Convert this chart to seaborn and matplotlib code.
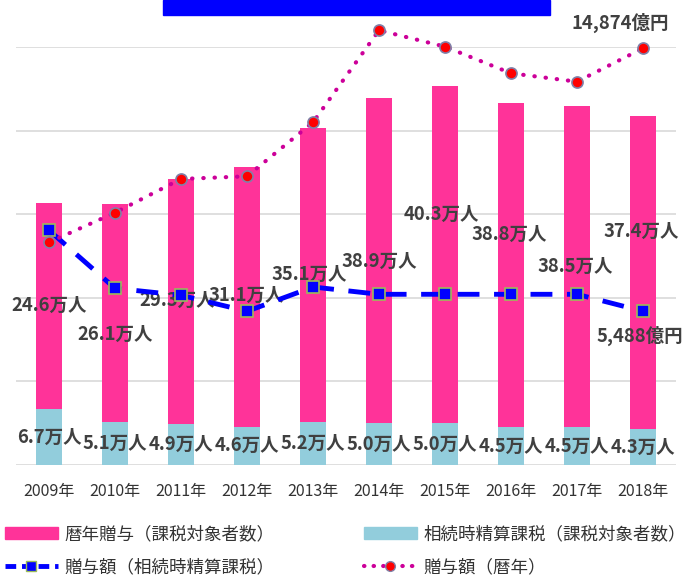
import matplotlib
matplotlib.use("Agg")
import matplotlib.pyplot as plt
import matplotlib.patches as mpatches
from matplotlib.lines import Line2D
import numpy as np
import pandas as pd
import seaborn as sns

# ---------------- data ----------------
years = ["2009年", "2010年", "2011年", "2012年", "2013年",
         "2014年", "2015年", "2016年", "2017年", "2018年"]
rekinen_people = [24.6, 26.1, 29.3, 31.1, 35.1, 38.9, 40.3, 38.8, 38.5, 37.4]   # 万人
seisan_people = [6.7, 5.1, 4.9, 4.6, 5.2, 5.0, 5.0, 4.5, 4.5, 4.3]            # 万人
seisan_amount = [8378, 6307, 6058, 5486, 6354, 6093, 6093, 6093, 6093, 5488]   # 億円
rekinen_amount = [7949, 9006, 10209, 10305, 12233, 15517, 14932, 13982, 13682, 14874]  # 億円

# label placement (data units of primary axis)
pink_lab_dx = [0.0, 0.0, -0.05, -0.01, -0.05, 0.0, -0.05, -0.02, -0.02, -0.02]
pink_lab_y = [19.06, 15.67, 19.65, 20.33, 22.85, 24.4, 30.0, 27.6, 23.7, 28.0]

PINK = "#FF3399"
CYAN = "#92CDDC"
BLUE = "#0000FF"
DOTC = "#CC0099"
TXT = "#404040"

sns.set_theme(style="white")
plt.rcParams["font.family"] = ["Noto Sans CJK JP", "DejaVu Sans"]

df = pd.DataFrame({
    "year": years,
    "rekinen": rekinen_people,
    "seisan": seisan_people,
    "total": np.array(rekinen_people) + np.array(seisan_people),
    "amt_s": seisan_amount,
    "amt_r": rekinen_amount,
})

W, H = 687, 580
fig = plt.figure(figsize=(W / 100, H / 100), dpi=100)
ax = fig.add_axes([16 / W, 115 / H, 660 / W, 418 / H])

sns.barplot(data=df, x="year", y="total", color=PINK, saturation=1,
            width=0.39, ax=ax, errorbar=None, linewidth=0)
sns.barplot(data=df, x="year", y="seisan", color=CYAN, saturation=1,
            width=0.39, ax=ax, errorbar=None, linewidth=0)

ax.set_xlim(-0.5, 9.5)
ax.set_ylim(0, 50)
ax.set_yticks(np.arange(0, 51, 10))
ax.set_yticklabels([])
ax.grid(axis="y", color="#D9D9D9", lw=1.2)
ax.set_axisbelow(True)
for s in ax.spines.values():
    s.set_visible(False)
ax.set_xlabel("")
ax.set_ylabel("")
ax.tick_params(axis="x", length=0, pad=13, labelsize=11.5, labelcolor="#333333")
ax.tick_params(axis="y", length=0)

ax2 = ax.twinx()
sns.lineplot(data=df, x="year", y="amt_s", ax=ax2, color=BLUE, lw=3.5,
             marker="s", markersize=8, markerfacecolor=BLUE,
             markeredgecolor="#9BBB59", markeredgewidth=1.2, clip_on=False)
ax2.lines[-1].set_linestyle((0, (4.5, 3)))
sns.lineplot(data=df, x="year", y="amt_r", ax=ax2, color=DOTC, lw=3,
             marker="o", markersize=8, markerfacecolor="#FF0000",
             markeredgecolor="#8080A8", markeredgewidth=1.2, clip_on=False)
ax2.lines[-1].set_linestyle((0, (0.1, 2.6)))
ax2.lines[-1].set_dash_capstyle("round")
ax2.set_ylim(0, 14920)
ax2.set_yticks([])
ax2.set_ylabel("")
for s in ax2.spines.values():
    s.set_visible(False)

# data labels
lab_kw = dict(fontsize=13.3, fontweight="bold", color=TXT, ha="center", va="center")
for i, (v, dx, y) in enumerate(zip(rekinen_people, pink_lab_dx, pink_lab_y)):
    ax.text(i + dx, y, f"{v:.1f}万人", **lab_kw)
for i, v in enumerate(seisan_people):
    ax.text(i, v / 2, f"{v:.1f}万人", **lab_kw)
ax.text(8.66, 52.9, f"{rekinen_amount[-1]:,}億円", clip_on=False, **lab_kw)
ax.text(8.95, 15.4, f"{seisan_amount[-1]:,}億円", **lab_kw)

# blue title bar
fig.patches.append(mpatches.Rectangle((163 / W, 1 - 15 / H), 387 / W, 15 / H,
                                      transform=fig.transFigure, color=BLUE, zorder=5))

# legend
handles = [
    mpatches.Patch(color=PINK, label="暦年贈与（課税対象者数）"),
    Line2D([0], [0], color=BLUE, lw=3.5, ls=(0, (2.2, 1.2)), marker="s", markersize=7,
           markerfacecolor=BLUE, markeredgecolor="#9BBB59", label="贈与額（相続時精算課税）"),
    mpatches.Patch(color=CYAN, label="相続時精算課税（課税対象者数）"),
    Line2D([0], [0], color=DOTC, lw=3, ls=(0, (0.1, 2.2)), dash_capstyle="round",
           marker="o", markersize=7, markerfacecolor="#FF0000", markeredgecolor="#8080A8",
           label="贈与額（暦年）"),
]
leg = fig.legend(handles=handles, loc="upper left", bbox_to_anchor=(0.0, 1 - 520 / H),
                 ncol=2, frameon=False, fontsize=12.6, handlelength=3.0, handleheight=0.7,
                 handletextpad=0.4, columnspacing=5.1, labelspacing=0.85,
                 borderaxespad=0, borderpad=0.3)
for t in leg.get_texts():
    t.set_color("#333333")

fig.savefig("out.png", dpi=100)
